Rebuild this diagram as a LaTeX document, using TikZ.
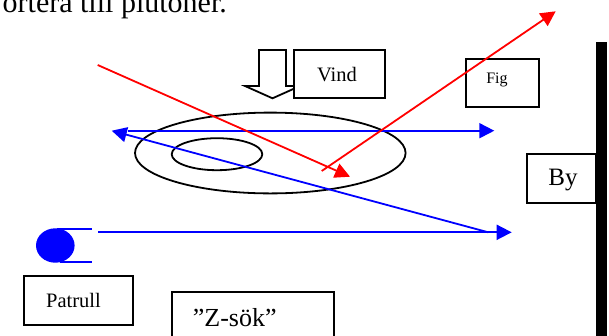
\documentclass[tikz,border=0pt]{standalone}
\usepackage{fontspec}
\setmainfont{Liberation Serif}
\usetikzlibrary{arrows.meta}
\begin{document}
\begin{tikzpicture}[x=1pt,y=-1pt,
  box/.style={draw=black, line width=1.8pt, fill=white, inner sep=0pt},
  bl/.style={draw=blue, line width=1.8pt},
  rd/.style={draw=red, line width=1.8pt},
  tipb/.style={-{Triangle[length=15pt,width=15pt]}},
  ring/.style={draw=black, line width=1.8pt},
  lbl/.style={inner sep=0pt, text=black}]
\useasboundingbox (0,0) rectangle (609,335);
\clip (0,0) rectangle (609,335);
\fill[white] (0,0) rectangle (609,335);
% heading text (cut at the top)
\node[lbl, anchor=base east, font=\fontsize{30}{36}\selectfont] (head) at (227,12.7) {ortera till plutoner.};
% wind arrow
\draw[line width=1.8pt, fill=white, line join=miter] (259,50) -- (286,50) -- (286,86) -- (300,86) -- (272.5,98.3) -- (245,86) -- (259,86) -- cycle;
% boxes
\node[box, minimum width=90.7pt, minimum height=48.3pt] (vind) at (339.7,74.2) {};
\node[lbl, font=\fontsize{20.5}{24}\selectfont] (vindt) at (337,74.5) {Vind};
\node[box, minimum width=72.7pt, minimum height=48.3pt] (fig) at (502.3,82.9) {};
\node[lbl, font=\fontsize{16}{19}\selectfont] (figt) at (497,79.5) {Fig};
\node[box, minimum width=68.7pt, minimum height=49pt] (by) at (561.7,178.8) {};
\node[lbl, font=\fontsize{25}{30}\selectfont] (byt) at (563,180) {By};
\node[box, minimum width=109pt, minimum height=49pt] (patrull) at (78.8,300.5) {};
\node[lbl, font=\fontsize{20.5}{24}\selectfont] (patrullt) at (73.5,300.5) {Patrull};
\draw[line width=1.8pt] (171.7,291.7) rectangle (334,345);
\node[lbl, anchor=base west, font=\fontsize{26}{30}\selectfont] (zsok) at (192.7,326) {”Z-sök”};
% city wall
\fill[black] (595.7,42) rectangle (606.7,340);
% target rings
\draw[ring] (270.3,153) ellipse [x radius=135.3pt, y radius=40.4pt];
\draw[ring] (217,154.2) ellipse [x radius=45.3pt, y radius=16pt];
% patrol symbol
\fill[blue] (55.3,245.5) ellipse [x radius=19.3pt, y radius=17.2pt];
\coordinate (pt1) at (57,229.3);
\coordinate (pt2) at (91.7,229.3);
\coordinate (pb1) at (60,261.7);
\coordinate (pb2) at (91.7,261.7);
\draw[bl] (pt1) -- (pt2);
\draw[bl] (pb1) -- (pb2);
% blue route
\coordinate (p0) at (98.3,232.3);
\coordinate (p1) at (511.7,232.3);
\coordinate (p2) at (488.3,232.3);
\coordinate (p3) at (111.7,130.7);
\coordinate (p4) at (128,130.7);
\coordinate (p5) at (494.3,130.7);
\draw[bl,tipb] (p0) -- (p1);
\draw[bl,tipb] (p2) -- (p3);
\draw[bl,tipb] (p4) -- (p5);
% red lines
\coordinate (r0) at (97.7,65);
\coordinate (r1) at (350,176.7);
\coordinate (r2) at (321.7,171);
\coordinate (r3) at (555.7,11.3);
\draw[rd,tipb] (r0) -- (r1);
\draw[rd,tipb] (r2) -- (r3);
\end{tikzpicture}
\end{document}
